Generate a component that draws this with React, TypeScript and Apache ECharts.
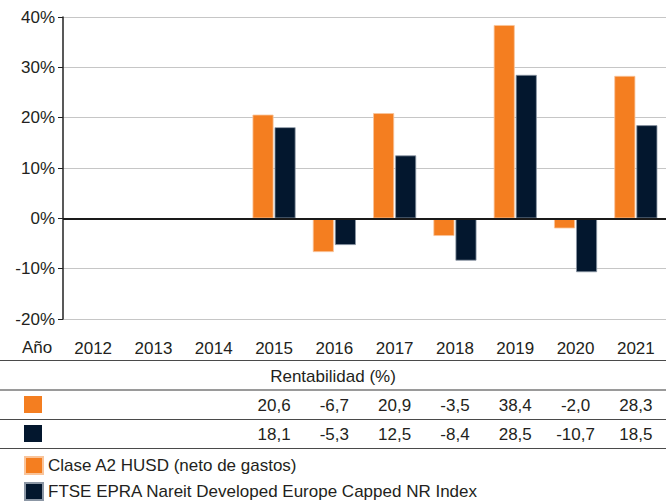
import React, { useEffect, useRef } from "react";
import * as echarts from "echarts";

const years = ["2012", "2013", "2014", "2015", "2016", "2017", "2018", "2019", "2020", "2021"];
const fundValues: (number | null)[] = [null, null, null, 20.6, -6.7, 20.9, -3.5, 38.4, -2.0, 28.3];
const indexValues: (number | null)[] = [null, null, null, 18.1, -5.3, 12.5, -8.4, 28.5, -10.7, 18.5];
const yTicks = { min: -20, max: 40, interval: 10 };
const fundName = "Clase A2 HUSD (neto de gastos)";
const indexName = "FTSE EPRA Nareit Developed Europe Capped NR Index";

const ORANGE = "#F47E20";
const NAVY = "#03172E";
const TEXT = "#231F20";
const FONT = "'Liberation Sans', Arial, Helvetica, sans-serif";

const fmt = (v: number | null) => (v == null ? "" : v.toFixed(1).replace(".", ","));

export default function App() {
  const ref = useRef<HTMLDivElement>(null);
  useEffect(() => {
    document.body.style.margin = "0";
    if (!ref.current) return;
    const chart = echarts.init(ref.current, undefined, { renderer: "svg" });
    const rowAxis = (vals: (number | null)[], margin: number) => ({
      type: "category",
      data: years,
      gridIndex: 0,
      position: "bottom",
      axisLine: { show: false, onZero: false },
      axisTick: { show: false },
      splitLine: { show: false },
      axisLabel: {
        interval: 0,
        margin,
        verticalAlign: "middle",
        fontSize: 17,
        color: TEXT,
        fontFamily: FONT,
        formatter: (_v: string, i: number) => fmt(vals[i]),
      },
    });
    const line = (y: number, color: string, w: number) => ({
      type: "line",
      shape: { x1: 0, y1: y, x2: 666, y2: y },
      style: { stroke: color, lineWidth: w },
    });
    chart.setOption({
      animation: false,
      textStyle: { fontFamily: FONT },
      grid: { left: 63, top: 17, width: 606, height: 302, containLabel: false },
      xAxis: [
        {
          type: "category",
          data: years,
          axisLine: { show: false, onZero: false },
          axisTick: { show: false },
          axisLabel: {
            interval: 0,
            margin: 29,
            verticalAlign: "middle",
            fontSize: 17,
            color: TEXT,
            fontFamily: FONT,
          },
        },
        rowAxis(fundValues, 86),
        rowAxis(indexValues, 115),
      ],
      yAxis: {
        type: "value",
        min: yTicks.min,
        max: yTicks.max,
        interval: yTicks.interval,
        axisLine: { show: true, lineStyle: { color: "#222", width: 1.5 } },
        axisTick: { show: true, length: 5, lineStyle: { color: "#222", width: 1 } },
        axisLabel: {
          formatter: "{value}%",
          fontSize: 17,
          color: TEXT,
          margin: 8,
          fontFamily: FONT,
        },
        splitLine: { show: true, lineStyle: { color: "#C6C6C6", width: 1.2 } },
      },
      legend: {
        orient: "vertical",
        left: 24,
        top: 456,
        height: 60,
        width: 640,
        itemWidth: 18,
        itemHeight: 17,
        itemGap: 7,
        padding: 0,
        icon: "rect",
        textStyle: { fontSize: 17, lineHeight: 17, color: TEXT, fontFamily: FONT },
        data: [fundName, indexName],
      },
      series: [
        {
          name: fundName,
          type: "bar",
          data: fundValues,
          barWidth: 21,
          barGap: "5%",
          itemStyle: { color: ORANGE, borderColor: "#F9C49A", borderWidth: 0.8 },
          markLine: {
            silent: true,
            symbol: "none",
            label: { show: false },
            lineStyle: { color: "#1a1a1a", width: 2.2, type: "solid" },
            data: [{ yAxis: 0 }],
          },
        },
        {
          name: indexName,
          type: "bar",
          data: indexValues,
          barWidth: 21,
          itemStyle: { color: NAVY, borderColor: "#8C97A5", borderWidth: 0.8 },
        },
      ],
      graphic: [
        {
          type: "text",
          left: 22,
          top: 339,
          style: { text: "Año", fontSize: 17, fill: TEXT, fontFamily: FONT },
        },
        {
          type: "text",
          x: 333,
          y: 376,
          style: {
            text: "Rentabilidad (%)",
            fontSize: 17,
            fill: TEXT,
            fontFamily: FONT,
            align: "center",
            verticalAlign: "middle",
          },
        },
        line(360.5, "#4a4a4a", 1.2),
        line(390, "#9a9a9a", 2),
        line(419.5, "#4a4a4a", 1.2),
        line(448.5, "#4a4a4a", 1.2),
        { type: "rect", shape: { x: 24, y: 396, width: 18, height: 17 }, style: { fill: ORANGE } },
        { type: "rect", shape: { x: 24, y: 425, width: 18, height: 17 }, style: { fill: NAVY } },
      ],
    });
    return () => chart.dispose();
  }, []);
  return <div ref={ref} style={{ width: 666, height: 502 }} />;
}
